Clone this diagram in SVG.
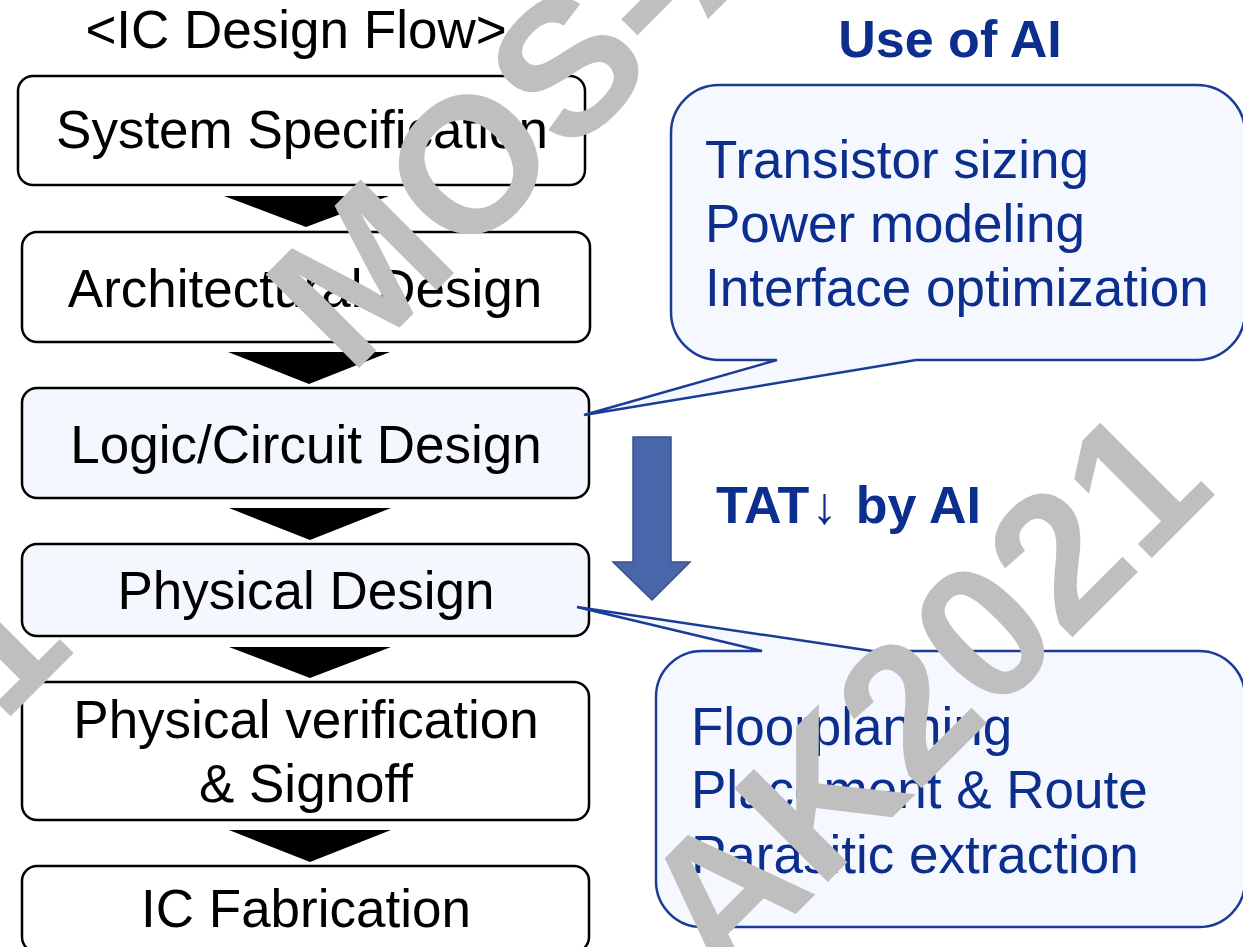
<svg xmlns="http://www.w3.org/2000/svg" width="1243" height="947" viewBox="0 0 1243 947">
  <defs>
    <style>
      .t { font-family: "Liberation Sans", Arial, sans-serif; font-size: 53px; }
      .blk { fill: #000; text-anchor: middle; }
      .navy { fill: #0c2e8d; }
      .bold { font-weight: bold; font-size: 52px; }
      .box { fill: #ffffff; stroke: #000; stroke-width: 2.5; }
      .boxb { fill: #f4f7fd; stroke: #000; stroke-width: 2.5; }
      .chev { fill: #000; }
      .bubble { fill: #f5f8fe; stroke: #1b3c96; stroke-width: 2.5; stroke-linejoin: miter; }
      .wm { font-family: "Liberation Sans", Arial, sans-serif; font-weight: bold; font-size: 192px; fill: #bfbfbf; }
    </style>
  </defs>
  <rect width="1243" height="947" fill="#ffffff"/>

  <text id="title" class="t blk" x="296" y="48">&lt;IC Design Flow&gt;</text>

  <g id="n1">
    <rect class="box" x="18" y="76" width="567" height="109" rx="15"/>
    <text class="t blk" x="302" y="148">System Specification</text>
  </g>
  <g id="n2">
    <rect class="box" x="22" y="232" width="568" height="110" rx="15"/>
    <text class="t blk" x="305" y="307">Architectural Design</text>
  </g>
  <g id="n3">
    <rect class="boxb" x="22" y="388" width="567" height="110" rx="15"/>
    <text class="t blk" x="306" y="463">Logic/Circuit Design</text>
  </g>
  <g id="n4">
    <rect class="boxb" x="22" y="544" width="567" height="92" rx="15"/>
    <text class="t blk" x="306" y="609">Physical Design</text>
  </g>
  <g id="n5">
    <rect class="box" x="22" y="682" width="567" height="138" rx="15"/>
    <text class="t blk" x="306" y="738">Physical verification</text>
    <text class="t blk" x="306" y="802">&amp; Signoff</text>
  </g>
  <g id="n6">
    <rect class="box" x="22" y="866" width="567" height="86" rx="15"/>
    <text class="t blk" x="306" y="927">IC Fabrication</text>
  </g>

  <g id="connectors">
    <polygon class="chev" points="224,196 389,196 306,227"/>
    <polygon class="chev" points="228,352 390,352 309,384"/>
    <polygon class="chev" points="229,508 391,508 310,540"/>
    <polygon class="chev" points="229,647 391,647 310,678"/>
    <polygon class="chev" points="229,830 391,830 310,862"/>
  </g>

  <g id="ai-title">
    <text class="t navy bold" x="950" y="57" text-anchor="middle">Use of AI</text>
  </g>

  <g id="bubble1">
    <path class="bubble" d="M719,85 H1197 A48 48 0 0 1 1245,133 V312 A48 48 0 0 1 1197,360 H916 L584,415 L777,360 H719 A48 48 0 0 1 671,312 V133 A48 48 0 0 1 719,85 Z"/>
    <text class="t navy" x="705" y="178">Transistor sizing</text>
    <text class="t navy" x="705" y="242">Power modeling</text>
    <text class="t navy" x="705" y="306">Interface optimization</text>
  </g>

  <g id="tat">
    <path d="M633,437 H671 V562 H690 L652,600 L613,562 H633 Z" fill="#4a66ab" stroke="#3a5088" stroke-width="1.5"/>
    <text class="t navy bold" x="716" y="523">TAT<tspan font-weight="normal" dx="2">↓</tspan><tspan dx="4"> by AI</tspan></text>
  </g>

  <g id="bubble2">
    <path class="bubble" d="M702,651 H762 L577,607 L872,651 H1199 A46 46 0 0 1 1245,697 V881 A46 46 0 0 1 1199,927 H702 A46 46 0 0 1 656,881 V697 A46 46 0 0 1 702,651 Z"/>
    <text class="t navy" x="691" y="745">Floorplanning</text>
    <text class="t navy" x="691" y="808">Placement &amp; Route</text>
    <text class="t navy" x="691" y="873">Parasitic extraction</text>
  </g>

  <g id="watermark" transform="rotate(-45)">
    <text class="wm" x="-1610" y="514">MOS-AK2021</text>
    <text class="wm" x="-19" y="514">MOS-AK2021</text>
    <text class="wm" x="-691" y="1209">MOS-AK2021</text>
  </g>
</svg>
